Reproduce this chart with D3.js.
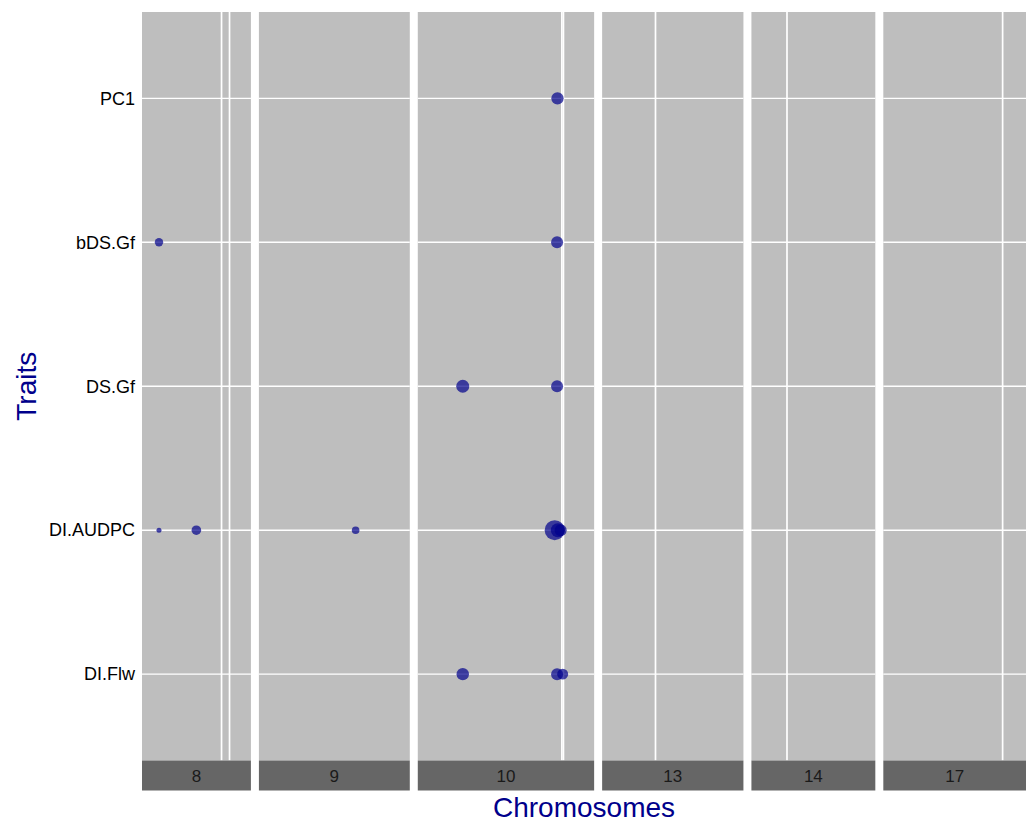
<!DOCTYPE html>
<html>
<head>
<meta charset="utf-8">
<script src="https://cdn.jsdelivr.net/npm/d3@7"></script>
<style>
    body { margin: 0; background: #fff; }
    svg text { font-family: "Liberation Sans", Arial, Helvetica, sans-serif; }
</style>
</head>
<body>
<div id="chart"></div>
<script>
/********** Data **********/

var traits = ["PC1", "bDS.Gf", "DS.Gf", "DI.AUDPC", "DI.Flw"];

// chromosome panels, positions in Mb
var chromosomes = ["8", "9", "10", "13", "14", "17"];
var chromStart = [0.1, 1.0, 3.75, 1.65, 1.1, 0.15];
var chromEnd = [27.35, 38.75, 47.875, 37.0, 32.1, 35.85];
var chromGrid = [[20, 22], [], [39.8, 40.2], [15], [10], [30]];

// detected QTL
var qtlTrait = ["PC1", "bDS.Gf", "bDS.Gf", "DS.Gf", "DS.Gf", "DI.AUDPC", "DI.AUDPC", "DI.AUDPC",
    "DI.AUDPC", "DI.AUDPC", "DI.AUDPC", "DI.Flw", "DI.Flw", "DI.Flw"];
var qtlChrom = ["10", "8", "10", "10", "10", "8", "8", "9", "10", "10", "10", "10", "10", "10"];
var qtlPos = [38.7, 4.35, 38.6, 15.0, 38.6, 4.35, 13.7, 25.2, 38.0, 38.8, 39.5, 15.0, 38.6, 40.0];
var qtlEffect = [7.6, 3.5, 7.2, 8.5, 7.2, 1.25, 4.6, 2.9, 20, 9.8, 7.2, 7.7, 7.2, 6.0];

/********** Layout **********/

var width = 1026, height = 822;
var plotLeft = 142, plotRight = 1026, plotTop = 12, plotBottom = 760.5;
var panelGap = 8, stripHeight = 30;

var svg = d3.select("#chart").append("svg")
    .attr("width", width)
    .attr("height", height);

var y = d3.scalePoint()
    .domain(traits)
    .range([plotTop, plotBottom])
    .padding(0.6);

var size = d3.scaleSqrt().domain([0, 20]).range([0, 10]);

// free x space: panel width follows the Mb range shown
var totalRange = d3.sum(chromosomes, function (c, i) { return chromEnd[i] - chromStart[i]; });
var pxPerMb = (plotRight - plotLeft - panelGap * (chromosomes.length - 1)) / totalRange;

var panels = [];
var x0 = plotLeft;
chromosomes.forEach(function (c, i) {
    var w = (chromEnd[i] - chromStart[i]) * pxPerMb;
    panels.push({
        chrom: c,
        grid: chromGrid[i],
        x: d3.scaleLinear().domain([chromStart[i], chromEnd[i]]).range([x0, x0 + w]),
        left: x0,
        width: w
    });
    x0 += w + panelGap;
});

var panelMap = new Map(panels.map(function (p) { return [p.chrom, p]; }));

/********** Panels **********/

var gPanel = svg.selectAll("g.panel")
    .data(panels)
    .enter().append("g")
    .attr("class", "panel");

gPanel.append("rect")
    .attr("x", function (d) { return d.left; })
    .attr("y", plotTop)
    .attr("width", function (d) { return d.width; })
    .attr("height", plotBottom - plotTop)
    .attr("fill", "#bebebe");

gPanel.each(function (p) {
    var g = d3.select(this);
    g.selectAll("line.hgrid")
        .data(traits)
        .enter().append("line")
        .attr("x1", p.left)
        .attr("x2", p.left + p.width)
        .attr("y1", function (t) { return y(t); })
        .attr("y2", function (t) { return y(t); })
        .attr("stroke", "#fff")
        .attr("stroke-width", 1.4);
    g.selectAll("line.vgrid")
        .data(p.grid)
        .enter().append("line")
        .attr("x1", function (v) { return p.x(v); })
        .attr("x2", function (v) { return p.x(v); })
        .attr("y1", plotTop)
        .attr("y2", plotBottom)
        .attr("stroke", "#fff")
        .attr("stroke-width", 1.7);
});

// strips under the panels
gPanel.append("rect")
    .attr("x", function (d) { return d.left; })
    .attr("y", plotBottom)
    .attr("width", function (d) { return d.width; })
    .attr("height", stripHeight)
    .attr("fill", "#666666");

gPanel.append("text")
    .attr("x", function (d) { return d.left + d.width / 2; })
    .attr("y", plotBottom + stripHeight / 2)
    .attr("dy", "0.36em")
    .attr("text-anchor", "middle")
    .attr("font-size", 17)
    .attr("fill", "#1a1a1a")
    .text(function (d) { return d.chrom; });

/********** Points **********/

var qtl = qtlTrait.map(function (t, i) {
    return { trait: t, chrom: qtlChrom[i], pos: qtlPos[i], effect: qtlEffect[i] };
});

svg.append("g")
    .selectAll("circle")
    .data(qtl)
    .enter().append("circle")
    .attr("cx", function (d) { return panelMap.get(d.chrom).x(d.pos); })
    .attr("cy", function (d) { return y(d.trait); })
    .attr("r", function (d) { return size(d.effect); })
    .attr("fill", "#00008b")
    .attr("fill-opacity", 0.7);

/********** Axes **********/

var yAxis = d3.axisLeft(y).tickSize(0).tickPadding(7);
var gy = svg.append("g")
    .attr("transform", "translate(" + plotLeft + ",0)")
    .call(yAxis);
gy.select(".domain").remove();
gy.selectAll("text")
    .attr("font-size", 18)
    .attr("fill", "#000");

svg.append("text")
    .attr("transform", "translate(36," + ((plotTop + plotBottom) / 2) + ") rotate(-90)")
    .attr("text-anchor", "middle")
    .attr("font-size", 28)
    .attr("fill", "#00008b")
    .text("Traits");

svg.append("text")
    .attr("x", (plotLeft + plotRight) / 2)
    .attr("y", 817)
    .attr("text-anchor", "middle")
    .attr("font-size", 28)
    .attr("fill", "#00008b")
    .text("Chromosomes");
</script>
</body>
</html>
